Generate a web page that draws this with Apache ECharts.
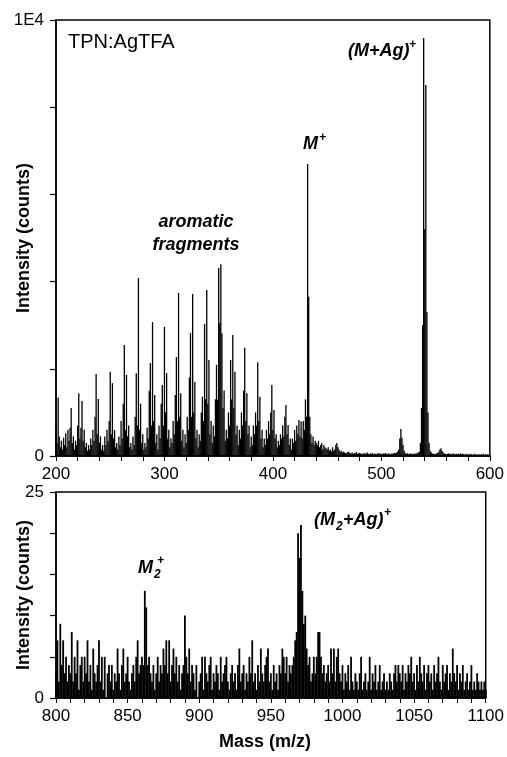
<!DOCTYPE html>
<html>
<head>
<meta charset="utf-8">
<script src="https://cdn.jsdelivr.net/npm/echarts@6/dist/echarts.min.js"></script>
<style>
html,body{margin:0;padding:0;background:#fff;}
#chart{width:507px;height:757px;}
</style>
</head>
<body>
<div id="chart"></div>
<script>
// ---- Data ----
// Top panel: intensity per unit m/z, starting at m/z 200
const topStart = 200;
const topIntensity = [
650,300,1340,450,200,350,150,420,250,520,
200,600,350,650,1100,300,450,150,350,250,
700,1440,400,650,1260,350,600,200,300,120,
250,150,400,250,600,350,900,1880,500,1310,
300,450,150,250,120,450,250,600,350,800,
1930,500,1670,400,600,200,300,150,450,250,
800,400,1200,2545,600,1860,450,700,200,300,
150,450,250,900,1900,700,4080,600,1200,300,
500,150,300,200,650,400,1500,2130,700,3070,
800,1400,300,500,150,700,400,1200,1630,700,
2960,1000,1900,400,600,200,400,300,800,500,
1400,2270,800,3740,900,1440,350,600,200,500,
300,900,600,1800,2820,900,3715,1000,1700,400,
600,200,500,350,1000,1360,800,3030,1300,3810,
1200,2200,500,800,300,700,450,1300,2090,1300,
4310,3050,4400,2810,1100,1500,350,600,400,1000,
700,2200,1300,2775,1100,1935,500,700,250,600,
400,1000,700,1500,2485,800,1440,500,700,200,
450,250,700,500,1000,700,2150,800,1360,400,
600,200,400,250,600,400,800,500,1000,1630,
600,1055,400,500,200,350,250,500,400,700,
450,900,1170,500,710,250,400,150,400,300,
600,350,700,500,825,450,790,400,800,600,
1300,900,6700,3650,900,500,300,450,250,350,
300,250,350,200,250,300,150,250,200,180,
150,200,120,150,100,200,120,150,250,300,
200,150,100,120,80,100,80,70,60,90,
100,70,60,80,50,70,60,90,50,60,
70,50,60,40,70,50,60,80,50,40,
60,50,70,40,50,60,40,70,50,60,
50,40,60,50,70,40,50,60,40,50,
60,50,70,60,80,100,150,400,620,420,
250,120,70,50,60,40,50,60,40,50,
50,60,50,70,80,100,300,1100,3000,9590,
5200,8510,3300,1000,300,120,80,60,50,40,
50,60,70,100,150,180,120,80,60,50,
40,50,60,40,50,40,60,50,40,50,
40,50,40,60,40,50,40,30,50,40,
40,30,50,40,30,40,50,30,40,30,
40,30,40,30,50,30,40,30,40,30,
30
];
// Bottom panel: counts per unit m/z, starting at m/z 800
const bottomStart = 800;
const bottomIntensity = [
3,7,2,9,4,7,3,5,2,4,
3,8,2,5,3,7,1,4,5,2,
5,3,7,2,4,1,6,3,2,4,
7,2,5,1,5,0,3,4,2,4,
1,3,2,6,3,1,4,6,2,3,
5,2,1,3,4,2,5,7,3,4,
5,4,13,11,4,5,3,2,4,1,
3,5,2,4,3,6,4,7,3,7,
2,4,6,3,5,2,4,1,3,4,
10,5,3,6,2,4,3,1,4,0,
2,3,5,1,5,3,2,4,5,1,
3,2,4,3,1,5,2,3,4,5,
2,1,3,4,2,3,1,4,6,2,
3,4,1,3,2,5,3,7,2,3,
1,4,2,6,3,2,4,5,6,2,
3,1,4,2,3,1,4,3,6,5,
3,5,2,4,3,4,5,7,8,20,
17,21,13,9,10,6,4,5,2,3,
5,3,5,8,8,5,3,4,2,3,
4,2,6,3,6,2,5,6,3,2,
4,1,3,2,4,1,5,2,1,3,
2,1,3,5,1,2,3,1,2,5,
1,3,2,4,1,2,4,1,2,3,
1,2,1,3,2,1,3,4,2,4,
3,2,4,1,3,2,4,3,5,2,
3,1,4,2,5,3,2,4,1,3,
4,2,3,1,4,2,3,5,2,1,
4,2,3,4,1,3,2,6,3,2,
4,1,3,2,4,1,2,3,1,2,
4,1,2,1,3,2,1,2,1,2,
1
];
// Axis tick labels
const topXLabels = [200, 300, 400, 500, 600];
const topYLabels = {0: '0', 10000: '1E4'};
const bottomXLabels = [800, 850, 900, 950, 1000, 1050, 1100];
const bottomYLabels = {0: '0', 25: '25'};

// ---- Build ----
const topData = topIntensity.map((v, i) => [topStart + i, v]);
const bottomData = bottomIntensity.map((v, i) => [bottomStart + i, v]);

const FF = '"Liberation Sans", Arial, sans-serif';
const chart = echarts.init(document.getElementById('chart'));

// axis carrying the bars (scale only, not drawn)
function dataXAxis(grid, min, max, step) {
  return {type: 'value', gridIndex: grid, min: min, max: max, interval: step, position: 'bottom', show: false};
}
// drawn axis with ticks and labels (same scale)
function drawnXAxis(grid, min, max, step, labels) {
  return {
    type: 'value', gridIndex: grid, min: min, max: max, interval: step, position: 'bottom',
    axisLine: {show: true, onZero: false, lineStyle: {color: '#000', width: 1.5}},
    axisTick: {show: true, length: 5, lineStyle: {color: '#000', width: 1}},
    axisLabel: {
      margin: 10, color: '#000', fontSize: 17, fontFamily: FF,
      formatter: v => labels.indexOf(v) >= 0 ? String(v) : ''
    },
    splitLine: {show: false}
  };
}
function yAxisCfg(grid, min, max, step, labels) {
  return {
    type: 'value', gridIndex: grid, min: min, max: max, interval: step,
    axisLine: {show: true, onZero: false, lineStyle: {color: '#000', width: 1.5}},
    axisTick: {show: true, length: 6, lineStyle: {color: '#000', width: 1.2}},
    axisLabel: {
      margin: 12, color: '#000', fontSize: 17, fontFamily: FF,
      formatter: v => (labels[v] !== undefined ? labels[v] : '')
    },
    splitLine: {show: false}
  };
}

const txt = (x, y, text, font, align, extra) => Object.assign({
  type: 'text', x: x, y: y, z: 100,
  style: {text: text, font: font, fill: '#000', textAlign: align || 'left', textVerticalAlign: 'middle',
          align: align || 'left', verticalAlign: 'middle'}
}, extra || {});

const BI18 = 'italic bold 18px ' + FF;
const BI12 = 'italic bold 12px ' + FF;

chart.setOption({
  animation: false,
  grid: [
    {left: 56, right: 17, top: 20, height: 436, show: true, borderColor: '#000', borderWidth: 1.5},
    {left: 56, right: 15, top: 492, height: 206, show: true, borderColor: '#000', borderWidth: 1.5}
  ],
  xAxis: [
    dataXAxis(0, 200, 600, 20),
    dataXAxis(1, 800, 1100, 10),
    drawnXAxis(0, 200, 600, 20, topXLabels),
    drawnXAxis(1, 800, 1100, 10, bottomXLabels)
  ],
  yAxis: [
    yAxisCfg(0, 0, 10000, 2000, topYLabels),
    yAxisCfg(1, 0, 25, 5, bottomYLabels)
  ],
  series: [
    {type: 'bar', xAxisIndex: 0, yAxisIndex: 0, data: topData, barWidth: 1.3,
     itemStyle: {color: '#000'}, silent: true},
    {type: 'bar', xAxisIndex: 1, yAxisIndex: 1, data: bottomData, barWidth: 1.8,
     itemStyle: {color: '#000'}, silent: true}
  ],
  graphic: [
    txt(68, 42, 'TPN:AgTFA', '20px ' + FF, 'left'),
    txt(348, 51, '(M+Ag)', BI18, 'left'),
    txt(409, 45, '+', BI12, 'left'),
    txt(303, 144, 'M', BI18, 'left'),
    txt(319, 138, '+', BI12, 'left'),
    txt(196, 222, 'aromatic', BI18, 'center'),
    txt(196, 245, 'fragments', BI18, 'center'),
    txt(138, 568, 'M', BI18, 'left'),
    txt(154, 575, '2', BI12, 'left'),
    txt(157, 561, '+', BI12, 'left'),
    txt(314, 520, '(M', BI18, 'left'),
    txt(336, 527, '2', BI12, 'left'),
    txt(343, 520, '+Ag)', BI18, 'left'),
    txt(384, 513, '+', BI12, 'left'),
    txt(265, 742, 'Mass (m/z)', 'bold 18px ' + FF, 'center'),
    txt(24, 238, 'Intensity (counts)', 'bold 18px ' + FF, 'center', {rotation: Math.PI / 2}),
    txt(24, 595, 'Intensity (counts)', 'bold 18px ' + FF, 'center', {rotation: Math.PI / 2})
  ]
});
</script>
</body>
</html>
